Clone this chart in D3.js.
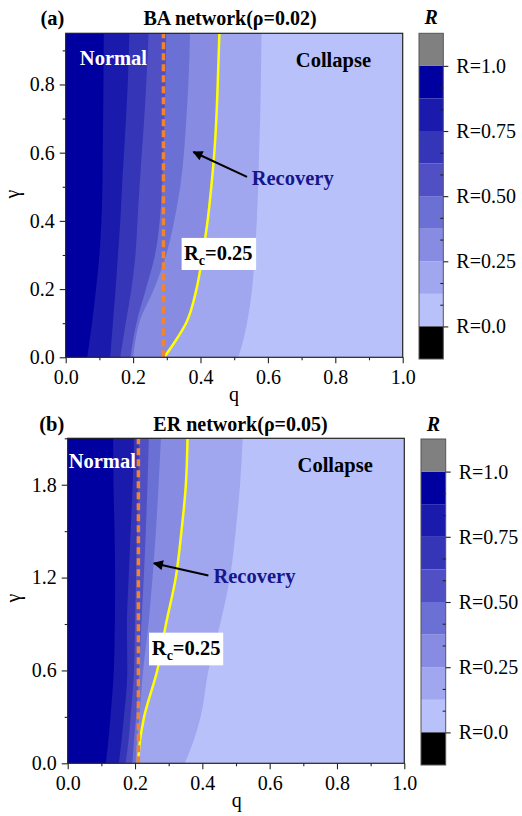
<!DOCTYPE html>
<html>
<head>
<meta charset="utf-8">
<title>R phase diagrams</title>
<script src="https://cdn.jsdelivr.net/npm/d3@7"></script>
<style>
  body { margin: 0; background: #fff; }
  svg text { font-family: "Liberation Serif", "Times New Roman", serif; }
</style>
</head>
<body>
<svg id="chart" width="522" height="816"></svg>
<script>
// ----- shared data -----
const levels = [0, 0.125, 0.25, 0.375, 0.5, 0.625, 0.75, 0.875, 1];
const bandColors = ["#b9c1fb", "#a0a7ee", "#878ce2", "#6b70d4", "#5050c4", "#3535b8", "#1a1aad", "#0000a0"];
const overColor = "#808080";
const underColor = "#000000";
const cbarTicks = [0, 0.25, 0.5, 0.75, 1];
const cbarLabels = ["R=0.0", "R=0.25", "R=0.50", "R=0.75", "R=1.0"];
const cbarMinor = [0.0833, 0.1667, 0.3333, 0.4167, 0.5833, 0.6667, 0.8333, 0.9167];
const qTicks = [0, 0.2, 0.4, 0.6, 0.8, 1.0];
const qMinor = [0.1, 0.3, 0.5, 0.7, 0.9];

// ----- (a) BA network, rho = 0.02 -----
const gammaA = [0, 0.05, 0.1, 0.2, 0.3, 0.4, 0.5, 0.6, 0.7, 0.8, 0.95];
// q of each contour boundary, R = 0.125 ... 0.875
const qA125 = [0.512, 0.527, 0.538, 0.553, 0.561, 0.567, 0.571, 0.574, 0.577, 0.579, 0.581];
const qA250 = [0.292, 0.327, 0.357, 0.388, 0.406, 0.421, 0.432, 0.441, 0.447, 0.451, 0.456];
const qA375 = [0.200, 0.207, 0.218, 0.262, 0.298, 0.322, 0.340, 0.351, 0.358, 0.364, 0.369];
const qA500 = [0.192, 0.200, 0.210, 0.238, 0.265, 0.279, 0.286, 0.290, 0.293, 0.296, 0.298];
const qA625 = [0.162, 0.170, 0.178, 0.195, 0.207, 0.213, 0.219, 0.226, 0.233, 0.239, 0.246];
const qA750 = [0.132, 0.136, 0.140, 0.148, 0.155, 0.162, 0.167, 0.173, 0.179, 0.184, 0.189];
const qA875 = [0.064, 0.071, 0.078, 0.090, 0.100, 0.106, 0.109, 0.110, 0.111, 0.112, 0.113];
const qcA = 0.29;
const gammaTicksA = [0, 0.2, 0.4, 0.6, 0.8];
const gammaMinorA = [0.1, 0.3, 0.5, 0.7, 0.9];

// ----- (b) ER network, rho = 0.05 -----
const gammaB = [0, 0.15, 0.3, 0.6, 0.9, 1.2, 1.5, 1.8, 2.1];
const qB125 = [0.348, 0.375, 0.395, 0.418, 0.453, 0.482, 0.499, 0.512, 0.520];
const qB250 = [0.209, 0.215, 0.227, 0.266, 0.292, 0.321, 0.338, 0.351, 0.356];
const qB375 = [0.202, 0.206, 0.213, 0.224, 0.240, 0.252, 0.262, 0.270, 0.277];
const qB500 = [0.192, 0.197, 0.203, 0.212, 0.219, 0.226, 0.232, 0.237, 0.241];
const qB625 = [0.172, 0.181, 0.187, 0.197, 0.200, 0.203, 0.206, 0.209, 0.212];
const qB750 = [0.152, 0.160, 0.167, 0.177, 0.176, 0.181, 0.187, 0.193, 0.197];
const qB875 = [0.113, 0.121, 0.127, 0.137, 0.140, 0.141, 0.139, 0.136, 0.135];
const qcB = 0.21;
const gammaTicksB = [0, 0.6, 1.2, 1.8];
const gammaMinorB = [0.3, 0.9, 1.5, 2.1];

const svg = d3.select("#chart");

svg.append("defs").append("marker")
  .attr("id", "arrowHead")
  .attr("viewBox", "0 0 10 10")
  .attr("refX", 9)
  .attr("refY", 5)
  .attr("markerUnits", "userSpaceOnUse")
  .attr("markerWidth", 13)
  .attr("markerHeight", 10)
  .attr("orient", "auto")
  .append("path")
  .attr("d", "M0,0 L10,5 L0,10 Z")
  .attr("fill", "#000");

const panels = [
  {
    id: "a", tag: "(a)", title: "BA network(\u03c1=0.02)",
    gamma: gammaA, bounds: [qA125, qA250, qA375, qA500, qA625, qA750, qA875],
    qc: qcA, gMax: 0.95, yTicks: gammaTicksA, yMinor: gammaMinorA,
    left: 65.7, top: 33.3, w: 337, h: 324,
    cb: { x: 419, y: 33.3, w: 24.3, h: 325.7, head: 23.5 },
    tagX: 40.5, titleX: 230, titleY: 25, gammaLabel: [19, 194], qLabel: [234, 401],
    normal: [0.042, 0.857], collapse: [0.683, 0.851], recovery: [0.552, 0.505],
    arrow: [[0.538, 0.529], [0.379, 0.602]],
    rcBox: [0.344, 0.565, 0.256, 0.350], rcText: [0.351, 0.285]
  },
  {
    id: "b", tag: "(b)", title: "ER network(\u03c1=0.05)",
    gamma: gammaB, bounds: [qB125, qB250, qB375, qB500, qB625, qB750, qB875],
    qc: qcB, gMax: 2.1, yTicks: gammaTicksB, yMinor: gammaMinorB,
    left: 67.7, top: 438.3, w: 336.6, h: 325,
    cb: { x: 421, y: 439, w: 24.7, h: 326, head: 431 },
    tagX: 39.3, titleX: 240.5, titleY: 431, gammaLabel: [19.5, 598], qLabel: [236.7, 807],
    normal: [0.003, 1.911], collapse: [0.683, 1.883], recovery: [0.433, 1.162],
    arrow: [[0.418, 1.213], [0.256, 1.293]],
    rcBox: [0.2415, 0.462, 0.633, 0.844], rcText: [0.25, 0.698]
  }
];

panels.forEach(p => {
  const x = d3.scaleLinear().domain([0, 1]).range([0, p.w]);
  const y = d3.scaleLinear().domain([0, p.gMax]).range([p.h, 0]);

  const g = svg.append("g").attr("transform", `translate(${p.left},${p.top})`);

  g.append("clipPath").attr("id", "clip-" + p.id)
    .append("rect").attr("width", p.w).attr("height", p.h);

  const plot = g.append("g").attr("clip-path", `url(#clip-${p.id})`);

  // lowest band fills the whole area, then each boundary paints from q=0
  plot.append("rect")
    .attr("x", x(0)).attr("y", y(p.gMax))
    .attr("width", x(1) - x(0)).attr("height", y(0) - y(p.gMax))
    .attr("fill", bandColors[0]);

  p.bounds.forEach((qs, k) => {
    const pts = qs.map((q, i) => ({ q: q, g: p.gamma[i] }));
    const area = d3.area()
      .y(d => y(d.g))
      .x0(x(0))
      .x1(d => x(d.q))
      .curve(d3.curveMonotoneY);
    plot.append("path")
      .datum(pts)
      .attr("d", area)
      .attr("fill", bandColors[k + 1]);
  });

  // Rc = 0.25 contour
  const rcPts = p.bounds[1].map((q, i) => ({ q: q, g: p.gamma[i] }));
  plot.append("path")
    .datum(rcPts)
    .attr("d", d3.line().x(d => x(d.q)).y(d => y(d.g)).curve(d3.curveMonotoneY))
    .attr("fill", "none")
    .attr("stroke", "#ffff00")
    .attr("stroke-width", 2.5);

  // critical q, dashed
  plot.append("line")
    .attr("x1", x(p.qc)).attr("x2", x(p.qc))
    .attr("y1", y(0)).attr("y2", y(p.gMax))
    .attr("stroke", "#f2842f")
    .attr("stroke-width", 3.5)
    .attr("stroke-dasharray", "7,4");

  // ----- annotations -----
  const bold = sel => sel.style("font-weight", "bold").style("font-size", "20.5px");

  g.append("text").call(bold)
    .attr("x", x(p.normal[0])).attr("y", y(p.normal[1]))
    .attr("fill", "#fff").text("Normal");

  g.append("text").call(bold)
    .attr("x", x(p.collapse[0])).attr("y", y(p.collapse[1]))
    .attr("fill", "#000").text("Collapse");

  g.append("text").call(bold)
    .attr("x", x(p.recovery[0])).attr("y", y(p.recovery[1]))
    .attr("fill", "#16168a").text("Recovery");

  g.append("line")
    .attr("x1", x(p.arrow[0][0])).attr("y1", y(p.arrow[0][1]))
    .attr("x2", x(p.arrow[1][0])).attr("y2", y(p.arrow[1][1]))
    .attr("stroke", "#000")
    .attr("stroke-width", 2)
    .attr("marker-end", "url(#arrowHead)");

  g.append("rect")
    .attr("x", x(p.rcBox[0])).attr("y", y(p.rcBox[3]))
    .attr("width", x(p.rcBox[1]) - x(p.rcBox[0]))
    .attr("height", y(p.rcBox[2]) - y(p.rcBox[3]))
    .attr("fill", "#fff");

  const rc = g.append("text").call(bold)
    .attr("x", x(p.rcText[0])).attr("y", y(p.rcText[1]))
    .attr("fill", "#000");
  rc.append("tspan").text("R");
  rc.append("tspan").attr("dy", 5).style("font-size", "14px").text("c");
  rc.append("tspan").attr("dy", -5).text("=0.25");

  // frame
  g.append("rect")
    .attr("width", p.w).attr("height", p.h)
    .attr("fill", "none")
    .attr("stroke", "#222")
    .attr("stroke-width", 1.2);

  // ----- axes -----
  const fmt = d3.format(".1f");
  const styleAxis = ax => {
    ax.attr("font-family", "'Liberation Serif', serif");
    ax.select(".domain").remove();
    ax.selectAll("line").attr("stroke", "#222").attr("stroke-width", 1.1);
    ax.selectAll("text")
      .style("font-size", "20px")
      .style("font-family", "'Liberation Serif', serif")
      .attr("fill", "#000");
  };

  g.append("g")
    .call(d3.axisLeft(y).tickValues(p.yTicks).tickSize(6).tickPadding(5).tickFormat(fmt))
    .call(styleAxis);
  g.append("g")
    .call(d3.axisLeft(y).tickValues(p.yMinor).tickSize(3).tickFormat(""))
    .call(styleAxis);

  g.append("g")
    .attr("transform", `translate(0,${p.h})`)
    .call(d3.axisBottom(x).tickValues(qTicks).tickSize(6).tickPadding(7).tickFormat(fmt))
    .call(styleAxis);
  g.append("g")
    .attr("transform", `translate(0,${p.h})`)
    .call(d3.axisBottom(x).tickValues(qMinor).tickSize(3).tickFormat(""))
    .call(styleAxis);

  // axis titles
  svg.append("text")
    .attr("transform", `translate(${p.gammaLabel[0]},${p.gammaLabel[1]}) rotate(-90)`)
    .attr("text-anchor", "middle")
    .style("font-size", "20px")
    .text("\u03b3");

  svg.append("text")
    .attr("x", p.qLabel[0]).attr("y", p.qLabel[1])
    .attr("text-anchor", "middle")
    .style("font-size", "20px")
    .text("q");

  // panel tag and title
  svg.append("text")
    .attr("x", p.tagX).attr("y", p.titleY)
    .style("font-size", "20.5px").style("font-weight", "bold")
    .text(p.tag);

  svg.append("text")
    .attr("x", p.titleX).attr("y", p.titleY)
    .attr("text-anchor", "middle")
    .style("font-size", "20px").style("font-weight", "bold")
    .text(p.title);

  // ----- colour bar -----
  const cb = svg.append("g").attr("transform", `translate(${p.cb.x},${p.cb.y})`);
  const yR = d3.scaleLinear().domain([-0.125, 1.125]).range([p.cb.h, 0]);

  cb.selectAll("rect.band")
    .data(bandColors)
    .enter()
    .append("rect")
    .attr("class", "band")
    .attr("x", 0)
    .attr("width", p.cb.w)
    .attr("y", (d, i) => yR(levels[i + 1]))
    .attr("height", (d, i) => yR(levels[i]) - yR(levels[i + 1]))
    .attr("fill", d => d);

  cb.append("rect")
    .attr("width", p.cb.w)
    .attr("y", yR(1.125)).attr("height", yR(1) - yR(1.125))
    .attr("fill", overColor);
  cb.append("rect")
    .attr("width", p.cb.w)
    .attr("y", yR(0)).attr("height", yR(-0.125) - yR(0))
    .attr("fill", underColor);

  cb.append("rect")
    .attr("width", p.cb.w).attr("height", p.cb.h)
    .attr("fill", "none")
    .attr("stroke", "#555")
    .attr("stroke-width", 1);

  cb.append("g")
    .attr("transform", `translate(${p.cb.w},0)`)
    .call(d3.axisRight(yR).tickValues(cbarTicks).tickSize(5).tickPadding(8)
      .tickFormat((d, i) => cbarLabels[i]))
    .call(styleAxis);
  cb.append("g")
    .attr("transform", `translate(${p.cb.w},0)`)
    .call(d3.axisRight(yR).tickValues(cbarMinor).tickSize(-3).tickFormat(""))
    .call(styleAxis);

  svg.append("text")
    .attr("x", p.cb.x + p.cb.w / 2).attr("y", p.cb.head)
    .attr("text-anchor", "middle")
    .style("font-size", "20px").style("font-weight", "bold").style("font-style", "italic")
    .text("R");
});
</script>
</body>
</html>
